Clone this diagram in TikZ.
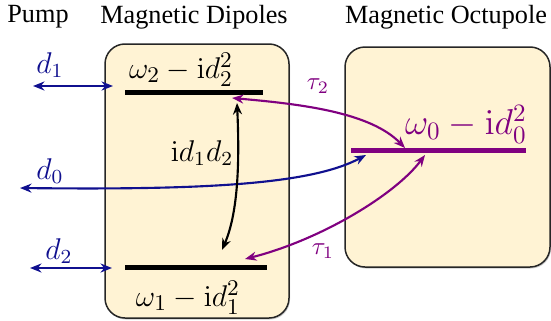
\documentclass[tikz,border=0pt]{standalone}
\usepackage{amsmath}
\usepackage[no-math]{fontspec}
\setmainfont{Liberation Serif}
\usepackage{xcolor}
\usepackage{tikz}
\usetikzlibrary{arrows.meta}
\definecolor{pumpc}{HTML}{10108F}
\definecolor{octc}{HTML}{800080}
\definecolor{boxbg}{HTML}{FFF3D4}
\tikzset{
  ar/.style={{Stealth[length=4.6pt,width=3.6pt]}-{Stealth[length=4.6pt,width=3.6pt]},line width=0.85pt},
  box/.style={draw=black!85,line width=0.6pt,rounded corners=8pt,fill=boxbg},
  shade/.style={fill=black!20,rounded corners=8pt},
  lvl/.style={fill=black,inner sep=0pt,minimum height=2pt},
  head/.style={font=\fontsize{10.5}{12}\selectfont}
}
\begin{document}
\begin{tikzpicture}[x=0.4pt,y=-0.4pt]
\useasboundingbox (0,0) rectangle (551,320);
% boxes
\fill[shade] (106,45.5) rectangle (290,319.5);
\draw[box] (105,44) rectangle (289,318);
\fill[shade] (346,48.5) rectangle (551,268.5);
\draw[box] (345,47) rectangle (550,267);
% headings
\node[head] (pump) at (38,17) {Pump};
\node[head] (dip) at (194,17) {Magnetic Dipoles};
\node[head] (oct) at (446,17) {Magnetic Octupole};
% levels
\node[lvl,minimum width=55.2pt] (l2) at (194,92) {};
\node[lvl,minimum width=56.8pt] (l1) at (196,267) {};
\node[lvl,fill=octc,minimum width=70pt] (l0) at (438.5,150) {};
\node[font=\fontsize{13}{15}\selectfont] (w2) at (181,70) {$\omega_2-\mathrm{i}d_2^2$};
\node[font=\fontsize{13}{15}\selectfont] (w1) at (188,298) {$\omega_1-\mathrm{i}d_1^2$};
\node[font=\Large,octc] (w0) at (466,124) {$\omega_0-\mathrm{i}d_0^2$};
% pump labels
\node[font=\large,pumpc] (d1) at (50,65) {$d_1$};
\node[font=\large,pumpc] (d0) at (50,171) {$d_0$};
\node[font=\large,pumpc] (d2) at (59,251) {$d_2$};
\node[octc] (tau2) at (318,86) {$\tau_2$};
\node[octc] (tau1) at (323,251) {$\tau_1$};
\node[font=\large] (k12) at (202,153) {$\mathrm{i}d_1d_2$};
% connector ends
\coordinate (d1a) at (33,86);
\coordinate (d1b) at (113,86);
\coordinate (d2a) at (30,268);
\coordinate (d2b) at (112,268);
\coordinate (d0a) at (20,188);
\coordinate (d0b) at (366,155);
\coordinate (t2a) at (232,98);
\coordinate (t2b) at (405,148);
\coordinate (t1a) at (245,259);
\coordinate (t1b) at (425,155);
\coordinate (ka) at (237,103);
\coordinate (kb) at (222,250);
% couplings
\draw[ar,pumpc] (d1a) -- (d1b);
\draw[ar,pumpc] (d2a) -- (d2b);
\draw[ar,pumpc] (d0a) .. controls (200,190) and (310,185) .. (d0b);
\draw[ar,octc] (t2a) .. controls (300,104) and (370,112) .. (t2b);
\draw[ar,octc] (t1a) .. controls (320,240) and (395,195) .. (t1b);
\draw[ar] (ka) .. controls (240,170) and (237,215) .. (kb);
\end{tikzpicture}
\end{document}
